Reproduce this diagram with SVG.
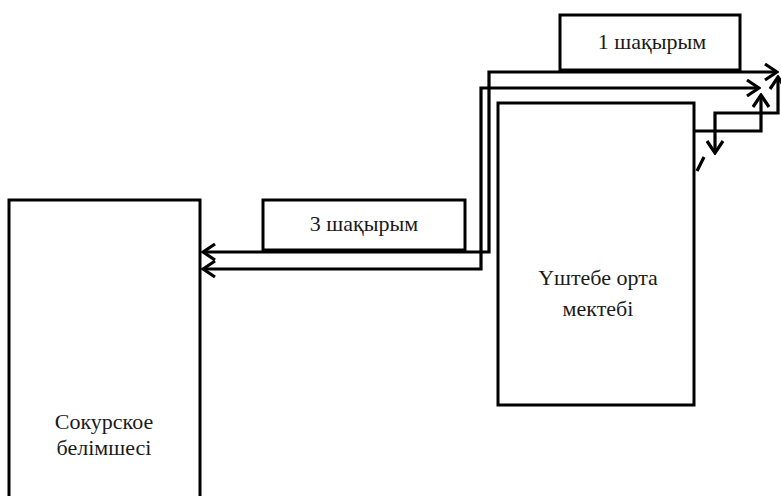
<svg xmlns="http://www.w3.org/2000/svg" width="781" height="496" viewBox="0 0 781 496">
<style>
.box{fill:#fff;stroke:#000;stroke-width:3}
.lbl{font-family:'Liberation Serif','Times New Roman','DejaVu Serif',serif;font-size:22px;fill:#1a1a1a;text-anchor:middle}
.conn{fill:none;stroke:#000;stroke-width:3.2}
</style>
<defs>
<marker id="ah" viewBox="-14 -10 16 20" refX="0" refY="0" markerWidth="16" markerHeight="20" markerUnits="userSpaceOnUse" orient="auto-start-reverse">
<path d="M-12,-8 L0,0 L-12,8" fill="none" stroke="#000" stroke-width="3.2"/>
</marker>
</defs>
<rect width="781" height="496" fill="#fff"/>
<g id="node-sokur">
<rect class="box" x="9" y="200" width="191" height="310"/>
<text class="lbl" x="104" y="429">Сокурское</text>
<text class="lbl" x="104" y="455">белімшесі</text>
</g>
<g id="node-3km">
<rect class="box" x="263" y="200" width="202" height="50"/>
<text class="lbl" x="364" y="231">3 шақырым</text>
</g>
<g id="node-1km">
<rect class="box" x="560" y="15" width="180" height="55"/>
<text class="lbl" x="652" y="49">1 шақырым</text>
</g>
<g id="node-ushtebe">
<rect class="box" x="498" y="103" width="196" height="302"/>
<text class="lbl" x="598" y="285">Үштебе орта</text>
<text class="lbl" x="598" y="316">мектебі</text>
</g>
<g id="connectors">
<path class="conn" d="M203,252 H489 V72 H777" marker-start="url(#ah)" marker-end="url(#ah)"/>
<path class="conn" d="M203,269 H481 V88 H759" marker-start="url(#ah)" marker-end="url(#ah)"/>
<path class="conn" d="M695,131 H761 V95" marker-end="url(#ah)"/>
<path class="conn" d="M778,77 V113 H715 V153" marker-start="url(#ah)" marker-end="url(#ah)"/>
<path class="conn" d="M704,157 L697,171"/>
</g>
</svg>
